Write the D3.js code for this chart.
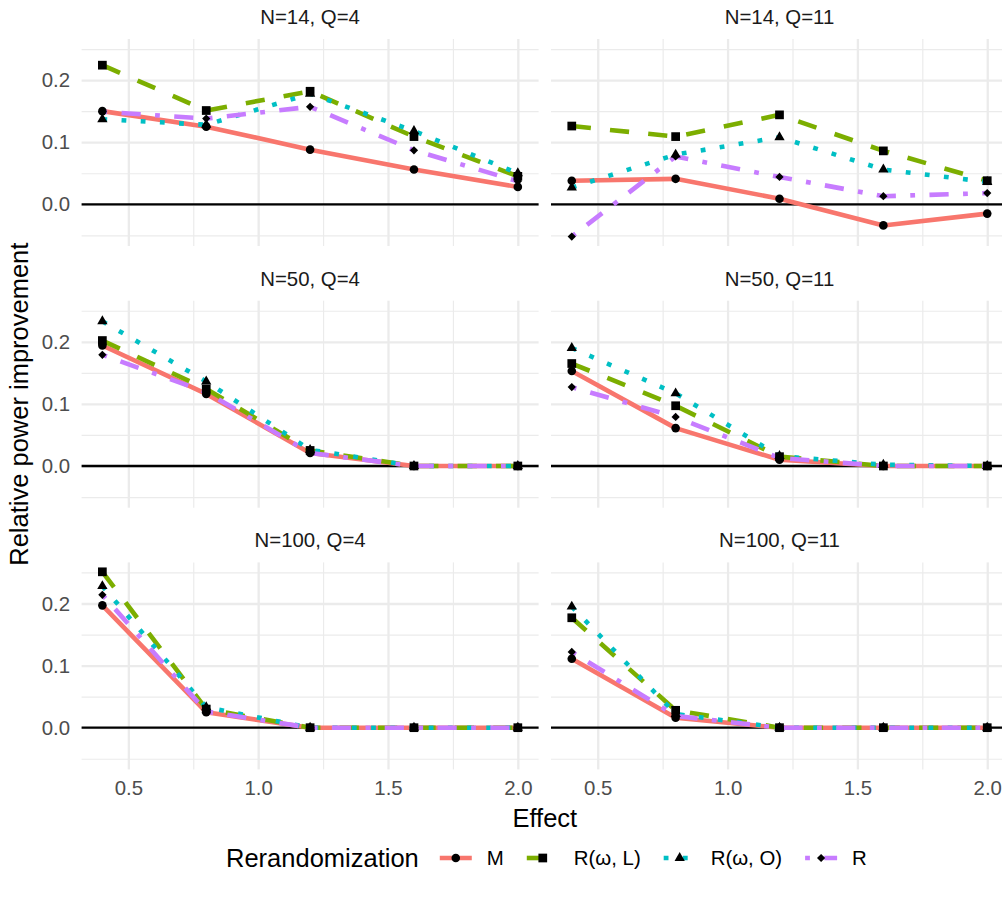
<!DOCTYPE html>
<html>

<head>
    <meta charset="utf-8">
    <title>Relative power improvement</title>
    <script src="https://d3js.org/d3.v7.min.js"></script>
    <style>
        body { margin: 0; background: #fff; }
        text { font-family: "Liberation Sans", Arial, sans-serif; }
    </style>
</head>

<body>

    <svg width="1002" height="906" id="mainSvg"></svg>
    <script>

        // ---- data ----
        const effects = [0.4, 0.8, 1.2, 1.6, 2.0];
        const panelTitles = ["N=14, Q=4", "N=14, Q=11", "N=50, Q=4", "N=50, Q=11", "N=100, Q=4", "N=100, Q=11"];
        const methods = ["M", "R(ω, L)", "R(ω, O)", "R"];

        // one row per panel (same order as panelTitles), one value per effect
        const valuesM = [
            [0.150, 0.125, 0.088, 0.056, 0.028],
            [0.038, 0.041, 0.009, -0.034, -0.015],
            [0.194, 0.116, 0.021, 0.000, 0.000],
            [0.153, 0.061, 0.010, 0.000, 0.000],
            [0.197, 0.025, 0.000, 0.000, 0.000],
            [0.111, 0.016, 0.000, 0.000, 0.000]
        ];
        const valuesL = [
            [0.224, 0.151, 0.182, 0.109, 0.045],
            [0.126, 0.109, 0.144, 0.086, 0.038],
            [0.202, 0.124, 0.025, 0.000, 0.000],
            [0.165, 0.097, 0.015, 0.000, 0.000],
            [0.251, 0.030, 0.000, 0.000, 0.000],
            [0.177, 0.028, 0.000, 0.000, 0.000]
        ];
        const valuesO = [
            [0.137, 0.128, 0.178, 0.118, 0.050],
            [0.027, 0.080, 0.108, 0.056, 0.036],
            [0.233, 0.136, 0.026, 0.000, 0.000],
            [0.190, 0.117, 0.016, 0.002, 0.000],
            [0.228, 0.033, 0.000, 0.000, 0.000],
            [0.195, 0.022, 0.000, 0.000, 0.000]
        ];
        const valuesR = [
            [0.149, 0.138, 0.157, 0.087, 0.037],
            [-0.052, 0.077, 0.044, 0.013, 0.018],
            [0.179, 0.119, 0.021, 0.000, 0.000],
            [0.127, 0.079, 0.013, 0.000, 0.000],
            [0.214, 0.026, 0.000, 0.000, 0.000],
            [0.122, 0.019, 0.000, 0.000, 0.000]
        ];

        const xTicks = [0.5, 1.0, 1.5, 2.0];
        const xMinor = [0.75, 1.25, 1.75];
        const yTicks = [0.0, 0.1, 0.2];
        const yMinor = [-0.05, 0.05, 0.15, 0.25];

        const seriesValues = [valuesM, valuesL, valuesO, valuesR];

        // ---- look ----
        const colors = ["#F8766D", "#7CAE00", "#00BFC4", "#C77CFF"];
        const u = 4.8; // R dash unit
        const dashes = ["none", `${4 * u},${4 * u}`, `${u},${3 * u}`, `${u},${3 * u},${4 * u},${3 * u}`];
        const lineWidth = 4.6;

        const diamond = {
            draw(ctx, size) {
                const r = Math.sqrt(size / 2);
                ctx.moveTo(0, -r); ctx.lineTo(r, 0); ctx.lineTo(0, r); ctx.lineTo(-r, 0); ctx.closePath();
            }
        };
        const shapes = [
            d3.symbol().type(d3.symbolCircle).size(58),
            d3.symbol().type(d3.symbolSquare).size(76),
            d3.symbol().type(d3.symbolTriangle).size(46),
            d3.symbol().type(diamond).size(34)
        ];

        const mainSvg = d3.select("#mainSvg");

        const panelW = 457;
        const panelH = 207;
        const colLeft = [81.6, 551];
        const rowTop = [39, 300.7, 562.4];
        const axisFont = 20.4;

        // ggplot style 5% expansion
        const expand = function (lo, hi) {
            const pad = (hi - lo) * 0.05;
            return [lo - pad, hi + pad];
        };
        const allVals = seriesValues.flat(2);
        const xScale = d3.scaleLinear()
            .domain(expand(d3.min(effects), d3.max(effects)))
            .range([0, panelW]);
        const yScale = d3.scaleLinear()
            .domain(expand(d3.min(allVals), d3.max(allVals)))
            .range([panelH, 0]);

        const line = d3.line()
            .x(d => xScale(d.x))
            .y(d => yScale(d.y));

        panelTitles.forEach(function (title, i) {
            const row = Math.floor(i / 2), col = i % 2;
            const g = mainSvg.append("g")
                .attr("transform", `translate(${colLeft[col]}, ${rowTop[row]})`);

            // grid
            const gridX = function (vals, w) {
                g.append("g").attr("transform", `translate(0, ${panelH})`)
                    .call(d3.axisBottom(xScale).tickValues(vals).tickSize(-panelH).tickFormat(""))
                    .call(a => a.select(".domain").remove())
                    .call(a => a.selectAll("line").attr("stroke", "#ebebeb").attr("stroke-width", w));
            };
            const gridY = function (vals, w) {
                g.append("g")
                    .call(d3.axisLeft(yScale).tickValues(vals).tickSize(-panelW).tickFormat(""))
                    .call(a => a.select(".domain").remove())
                    .call(a => a.selectAll("line").attr("stroke", "#ebebeb").attr("stroke-width", w));
            };
            gridX(xMinor, 1.2);
            gridY(yMinor, 1.2);
            gridX(xTicks, 2.3);
            gridY(yTicks, 2.3);

            // zero reference
            g.append("line")
                .attr("x1", 0).attr("x2", panelW)
                .attr("y1", yScale(0)).attr("y2", yScale(0))
                .attr("stroke", "#000").attr("stroke-width", 2.3);

            // lines
            seriesValues.forEach(function (vals, s) {
                const pts = effects.map((e, k) => ({ x: e, y: vals[i][k] }));
                g.append("path")
                    .attr("d", line(pts))
                    .attr("fill", "none")
                    .attr("stroke", colors[s])
                    .attr("stroke-width", lineWidth)
                    .attr("stroke-dasharray", dashes[s])
                    .attr("stroke-linecap", "butt")
                    .attr("stroke-linejoin", "round");
            });

            // points
            seriesValues.forEach(function (vals, s) {
                g.selectAll(null)
                    .data(effects.map((e, k) => ({ x: e, y: vals[i][k] })))
                    .join("path")
                    .attr("transform", d => `translate(${xScale(d.x)}, ${yScale(d.y)})`)
                    .attr("d", shapes[s])
                    .attr("fill", "#000");
            });

            // strip
            mainSvg.append("text")
                .attr("x", colLeft[col] + panelW / 2)
                .attr("y", rowTop[row] - 15)
                .attr("text-anchor", "middle")
                .attr("font-size", axisFont)
                .attr("fill", "#1a1a1a")
                .text(title);

            // y axis labels on left column
            if (col === 0) {
                g.append("g")
                    .call(d3.axisLeft(yScale).tickValues(yTicks).tickSize(0).tickPadding(11.5).tickFormat(d3.format(".1f")))
                    .call(a => a.select(".domain").remove())
                    .call(a => a.selectAll("text")
                        .attr("font-size", axisFont)
                        .attr("font-family", "Liberation Sans, Arial, sans-serif")
                        .attr("fill", "#4d4d4d"));
            }
            // x axis labels on bottom row
            if (row === 2) {
                g.append("g").attr("transform", `translate(0, ${panelH})`)
                    .call(d3.axisBottom(xScale).tickValues(xTicks).tickSize(0).tickPadding(11.5).tickFormat(d3.format(".1f")))
                    .call(a => a.select(".domain").remove())
                    .call(a => a.selectAll("text")
                        .attr("font-size", axisFont)
                        .attr("font-family", "Liberation Sans, Arial, sans-serif")
                        .attr("fill", "#4d4d4d"));
            }
        });

        // axis titles
        mainSvg.append("text")
            .attr("x", (colLeft[0] + colLeft[1] + panelW) / 2)
            .attr("y", 827)
            .attr("text-anchor", "middle")
            .attr("font-size", 25.5)
            .text("Effect");

        mainSvg.append("text")
            .attr("transform", `translate(28, ${(rowTop[0] + rowTop[2] + panelH) / 2}) rotate(-90)`)
            .attr("text-anchor", "middle")
            .attr("font-size", 25.5)
            .text("Relative power improvement");

        // legend
        const legendY = 858;
        const legend = mainSvg.append("g");
        const legendTitle = legend.append("text")
            .attr("x", 226)
            .attr("y", legendY + 9)
            .attr("font-size", 25.5)
            .text("Rerandomization");
        let cursor = 226 + legendTitle.node().getComputedTextLength() + 17;
        methods.forEach(function (m, s) {
            const key = legend.append("g").attr("transform", `translate(${cursor}, ${legendY})`);
            key.append("line")
                .attr("x1", 4).attr("x2", 36)
                .attr("stroke", colors[s])
                .attr("stroke-width", lineWidth)
                .attr("stroke-dasharray", dashes[s]);
            key.append("path")
                .attr("transform", "translate(20, 0)")
                .attr("d", shapes[s])
                .attr("fill", "#000");
            const label = legend.append("text")
                .attr("x", cursor + 40 + 11)
                .attr("y", legendY + 7.3)
                .attr("font-size", axisFont)
                .text(m);
            cursor += 40 + 11 + label.node().getComputedTextLength() + 19;
        });

    </script>
</body>

</html>
